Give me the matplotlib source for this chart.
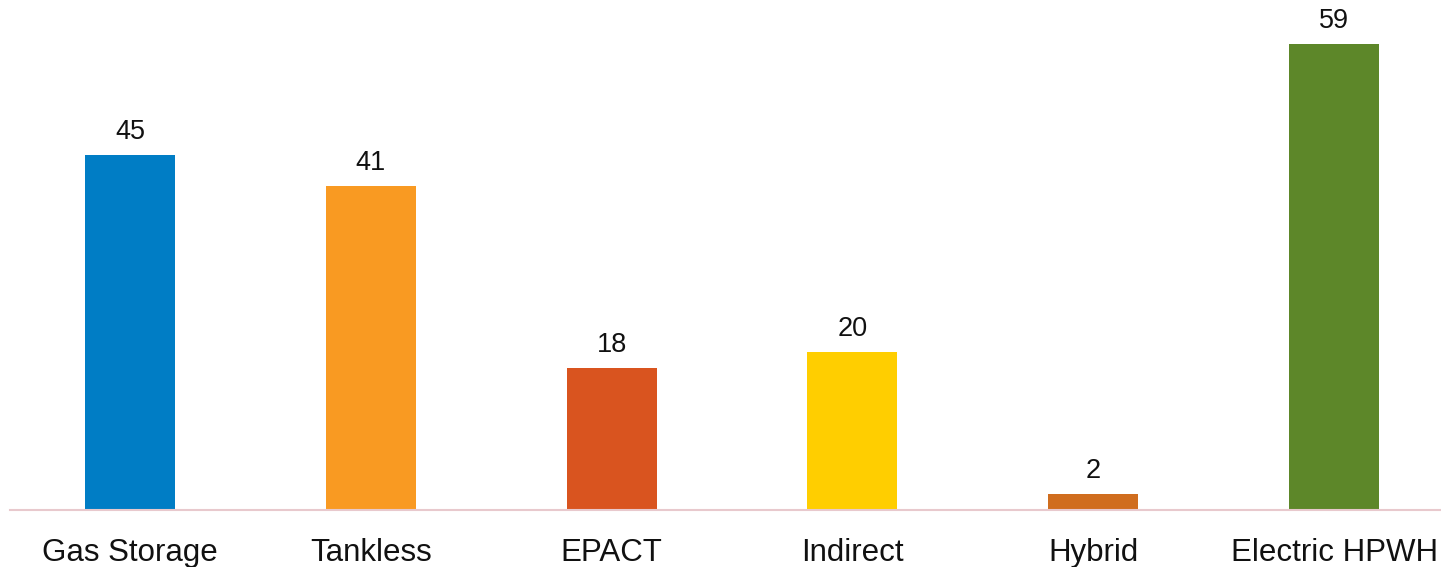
import matplotlib
matplotlib.use("Agg")
import matplotlib.pyplot as plt

categories = ["Gas Storage", "Tankless", "EPACT", "Indirect", "Hybrid", "Electric HPWH"]
values = [45, 41, 18, 20, 2, 59]
colors = ["#007DC5", "#F99A22", "#D9541F", "#FFCE00", "#D06D1E", "#5D8729"]

plt.rcParams['font.family'] = ['Liberation Sans', 'DejaVu Sans']

W, H, DPI = 1441, 567, 100
fig = plt.figure(figsize=(W / DPI, H / DPI), dpi=DPI)
left_px = 9.6
span_px = 240.8 * 6
bottom_px = 57
ax = fig.add_axes([left_px / W, bottom_px / H, span_px / W, (H - bottom_px) / H])

x = list(range(len(categories)))
ax.bar(x, values, width=0.374, color=colors, zorder=2)
ax.set_xlim(-0.5, len(categories) - 0.5)
ax.set_ylim(0, 510 / 7.9)

for xi, v in zip(x, values):
    ax.annotate(str(v), (xi, v), xytext=(0, 11.5), textcoords='offset points',
                ha='center', va='baseline', fontsize=19.5, color='#111111')
for xi, c in zip(x, categories):
    ax.annotate(c, (xi, 0), xytext=(0, -36.5), textcoords='offset points',
                ha='center', va='baseline', fontsize=22.5, color='#111111',
                annotation_clip=False)

for s in ['top', 'right', 'left']:
    ax.spines[s].set_visible(False)
ax.spines['bottom'].set_color('#E8C9CD')
ax.spines['bottom'].set_linewidth(1.5)
ax.spines['bottom'].set_zorder(3)
ax.set_xticks([])
ax.set_yticks([])
ax.patch.set_visible(False)

fig.savefig("out.png", dpi=DPI)
